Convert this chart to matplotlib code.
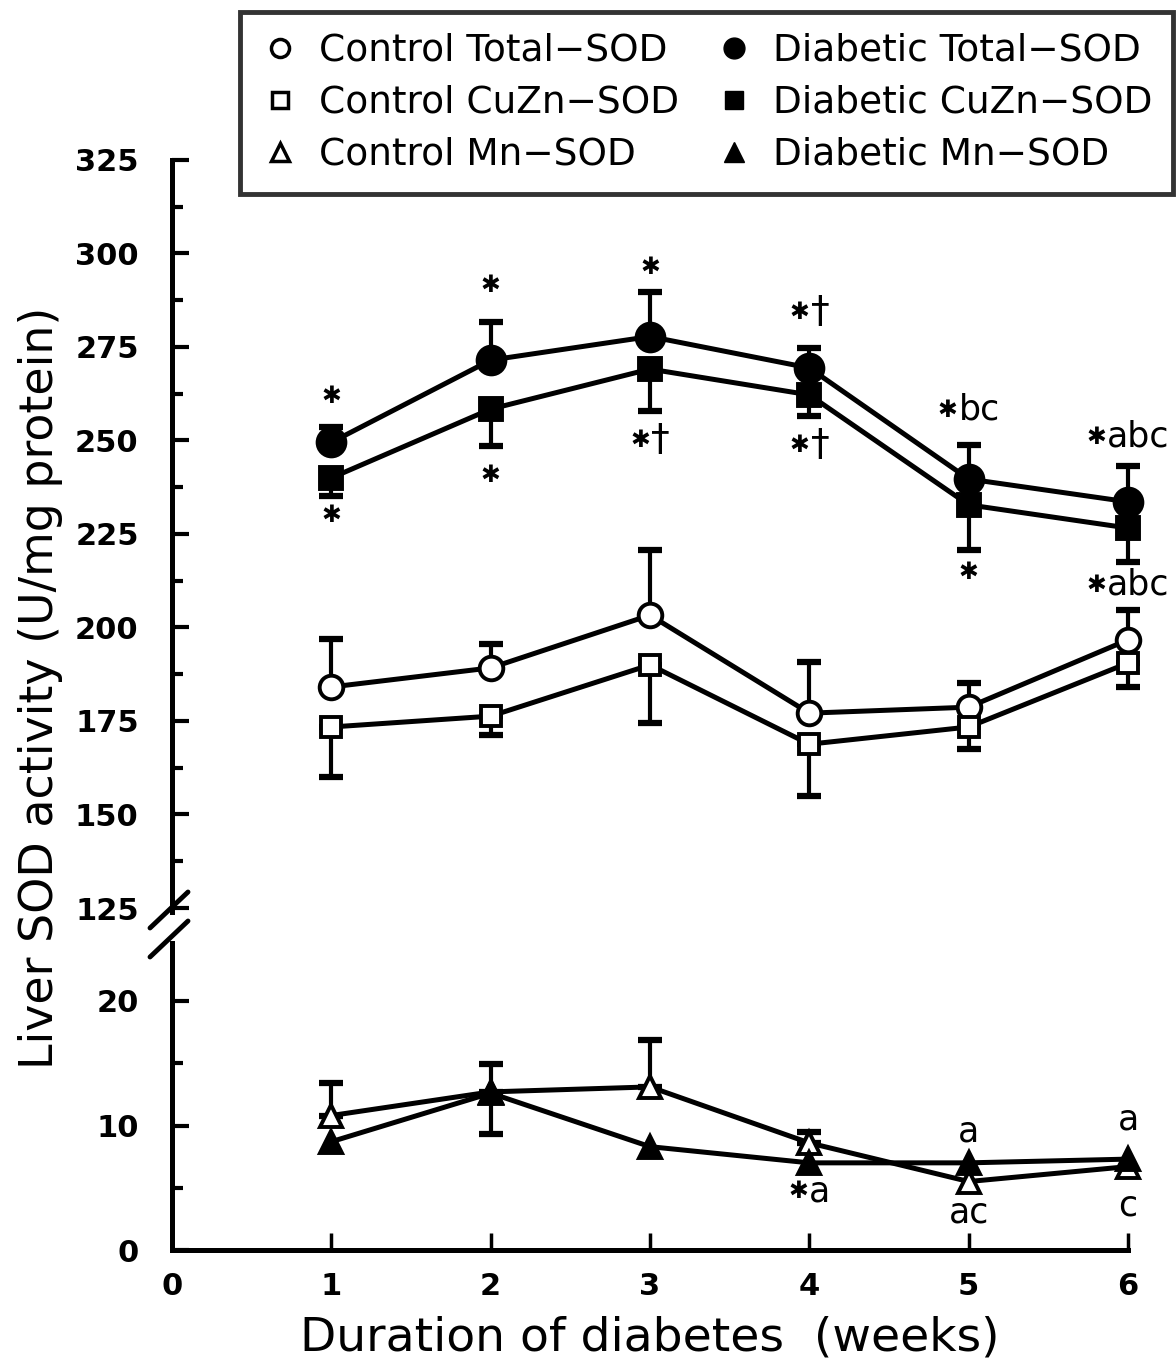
import matplotlib
matplotlib.use("Agg")
import matplotlib.pyplot as plt
from matplotlib.lines import Line2D
from matplotlib.offsetbox import TextArea, HPacker, AnnotationBbox
import numpy as np

plt.rcParams['font.family'] = ['DejaVu Sans']

# ---------------- data ----------------
weeks = [1, 2, 3, 4, 5, 6]
x_ticks = [0, 1, 2, 3, 4, 5, 6]

diab_total = [249.5, 271.5, 277.8, 269.4, 239.7, 233.6]
diab_total_err = [4.2, 10.3, 12.0, 5.3, 9.2, 9.6]          # upper
diab_cuzn = [240.0, 258.4, 269.1, 262.2, 232.8, 226.6]
diab_cuzn_err = [4.8, 10.0, 11.2, 5.7, 12.0, 9.1]          # lower
ctrl_total = [184.1, 189.2, 203.3, 177.1, 178.7, 196.7]
ctrl_total_err = [12.8, 6.4, 17.5, 13.7, 6.4, 8.0]         # upper
ctrl_cuzn = [173.4, 176.3, 190.0, 168.8, 173.4, 190.5]
ctrl_cuzn_err = [13.4, 5.0, 15.5, 13.8, 5.9, 6.4]          # lower
ctrl_mn = [10.8, 12.7, 13.1, 8.6, 5.5, 6.7]
ctrl_mn_err = [2.6, 2.2, 3.8, 0.9, 0.0, 0.0]               # upper
diab_mn = [8.7, 12.6, 8.3, 7.0, 7.0, 7.3]
diab_mn_err = [0.0, 3.3, 0.0, 0.0, 0.0, 0.0]               # lower

upper_ticks = [125, 150, 175, 200, 225, 250, 275, 300, 325]
lower_ticks = [0, 10, 20]

# (week, y, star?, letters)
upper_notes = [(1, 262.0, True, ""), (1, 230.0, True, ""), (2, 291.5, True, ""), (2, 240.8, True, ""),
               (3, 296.4, True, ""), (3, 250.0, True, "†"), (4, 284.4, True, "†"), (4, 248.8, True, "†"),
               (5, 258.2, True, "bc"), (5, 214.8, True, ""), (6, 251.0, True, "abc"), (6, 211.4, True, "abc")]
lower_notes = [(4, 4.7, True, "a"), (5, 9.5, False, "a"), (5, 3.0, False, "ac"),
               (6, 10.5, False, "a"), (6, 3.6, False, "c")]

legend_labels = ["Control Total\u2212SOD", "Control CuZn\u2212SOD", "Control Mn\u2212SOD",
                 "Diabetic Total\u2212SOD", "Diabetic CuZn\u2212SOD", "Diabetic Mn\u2212SOD"]

# ---------------- figure ----------------
W, H = 1176, 1358
fig = plt.figure(figsize=(W / 100, H / 100), dpi=100)

x0, x1 = 172, 1128
ax_top = fig.add_axes([x0 / W, 1 - 908 / H, (x1 - x0) / W, (908 - 160) / H])
ax_bot = fig.add_axes([x0 / W, 1 - 1250 / H, (x1 - x0) / W, (1250 - 943) / H])

LW = 3.6
TICKFS = 22
for ax in (ax_top, ax_bot):
    ax.set_xlim(0, 6)
    for s in ("top", "right"):
        ax.spines[s].set_visible(False)
    ax.spines["left"].set_linewidth(LW)
    ax.spines["bottom"].set_linewidth(LW)
    ax.tick_params(axis="y", which="major", direction="in", length=12, width=3,
                   pad=24)
    ax.tick_params(axis="y", which="minor", direction="in", length=8, width=3)

ax_top.spines["bottom"].set_visible(False)
ax_top.tick_params(axis="x", which="both", bottom=False, labelbottom=False)
ax_top.set_ylim(125, 325)
ax_top.set_yticks(upper_ticks)
ax_top.set_yticks(np.arange(125, 326, 12.5), minor=True)
ax_top.set_yticklabels([str(t) for t in upper_ticks], fontweight="bold", fontsize=TICKFS)

ax_bot.set_ylim(0, (1250 - 943) / 12.45)
ax_bot.set_yticks(lower_ticks)
ax_bot.set_yticks([5, 15], minor=True)
ax_bot.set_yticklabels([str(t) for t in lower_ticks], fontweight="bold", fontsize=TICKFS)
ax_bot.set_xticks(x_ticks)
ax_bot.set_xticklabels([str(t) for t in x_ticks], fontweight="bold", fontsize=TICKFS)
ax_bot.tick_params(axis="x", direction="in", length=12, width=2.5, pad=16)
ax_bot.set_xlabel("Duration of diabetes  (weeks)", fontsize=34, labelpad=10)


def draw(ax, y, err, up, marker, filled, ms, z):
    y = np.asarray(y, float)
    err = np.asarray(err, float)
    xs = np.asarray(weeks, float)
    m = err > 0
    if m.any():
        if up:
            yerr = [np.zeros(m.sum()), err[m]]
        else:
            yerr = [err[m], np.zeros(m.sum())]
        ax.errorbar(xs[m], y[m], yerr=yerr, fmt="none", ecolor="black",
                    elinewidth=3, capsize=8.5, capthick=4.5, zorder=z, clip_on=False)
    ax.plot(xs, y, color="black", lw=LW, marker=marker, ms=ms,
            markerfacecolor="black" if filled else "white",
            markeredgecolor="black", markeredgewidth=2.8, zorder=z + 1, clip_on=False)


draw(ax_top, diab_total, diab_total_err, True, "o", True, 20, 5)
draw(ax_top, diab_cuzn, diab_cuzn_err, False, "s", True, 16, 5)
draw(ax_top, ctrl_total, ctrl_total_err, True, "o", False, 17, 3)
draw(ax_top, ctrl_cuzn, ctrl_cuzn_err, False, "s", False, 14, 3)
draw(ax_bot, ctrl_mn, ctrl_mn_err, True, "^", False, 16, 3)
draw(ax_bot, diab_mn, diab_mn_err, False, "^", True, 16, 5)


def note(ax, wk, yv, star, letters):
    kids = []
    if star:
        kids.append(TextArea("✱", textprops=dict(fontsize=17, fontweight="bold")))
    if letters:
        fs = 27 if letters == "†" else 25
        kids.append(TextArea(letters, textprops=dict(fontsize=fs)))
    box = HPacker(children=kids, align="center", pad=0, sep=1)
    ab = AnnotationBbox(box, (wk, yv), xycoords="data", frameon=False,
                        box_alignment=(0.5, 0.5), pad=0, zorder=10, annotation_clip=False)
    ax.add_artist(ab)


for wk, yv, st, lt in upper_notes:
    note(ax_top, wk, yv, st, lt)
for wk, yv, st, lt in lower_notes:
    note(ax_bot, wk, yv, st, lt)

# y label centred on both panels
fig.text(41 / W, 1 - 688 / H, "Liver SOD activity (U/mg protein)", rotation=90,
         ha="center", va="center", fontsize=33)

# axis break marks (figure pixel coordinates)
for (xa, ya, xb, yb) in [(150, 928, 188, 892), (150, 957, 188, 921)]:
    fig.add_artist(Line2D([xa / W, xb / W], [1 - ya / H, 1 - yb / H],
                          transform=fig.transFigure, color="black", lw=3.5,
                          solid_capstyle="round"))
fig.add_artist(Line2D([x0 / W, x0 / W], [1 - 906 / H, 1 - 912 / H],
                      transform=fig.transFigure, color="black", lw=LW))

# legend
handles = [
    Line2D([], [], ls="none", marker="o", ms=13, mfc="white", mec="black", mew=2.5),
    Line2D([], [], ls="none", marker="s", ms=11, mfc="white", mec="black", mew=2.5),
    Line2D([], [], ls="none", marker="^", ms=13, mfc="white", mec="black", mew=2.5),
    Line2D([], [], ls="none", marker="o", ms=15, mfc="black", mec="black"),
    Line2D([], [], ls="none", marker="s", ms=13, mfc="black", mec="black"),
    Line2D([], [], ls="none", marker="^", ms=15, mfc="black", mec="black"),
]
leg = fig.legend(handles, legend_labels, ncol=2, loc="upper right",
                 bbox_to_anchor=(1173 / W, 1 - 12 / H), fontsize=27,
                 frameon=True, fancybox=False, edgecolor="black",
                 handlelength=1.0, handletextpad=0.55, columnspacing=0.95,
                 labelspacing=0.43, borderpad=0.55, borderaxespad=0)
leg.get_frame().set_linewidth(3.5)

fig.savefig("out.png", dpi=100, facecolor="white")
